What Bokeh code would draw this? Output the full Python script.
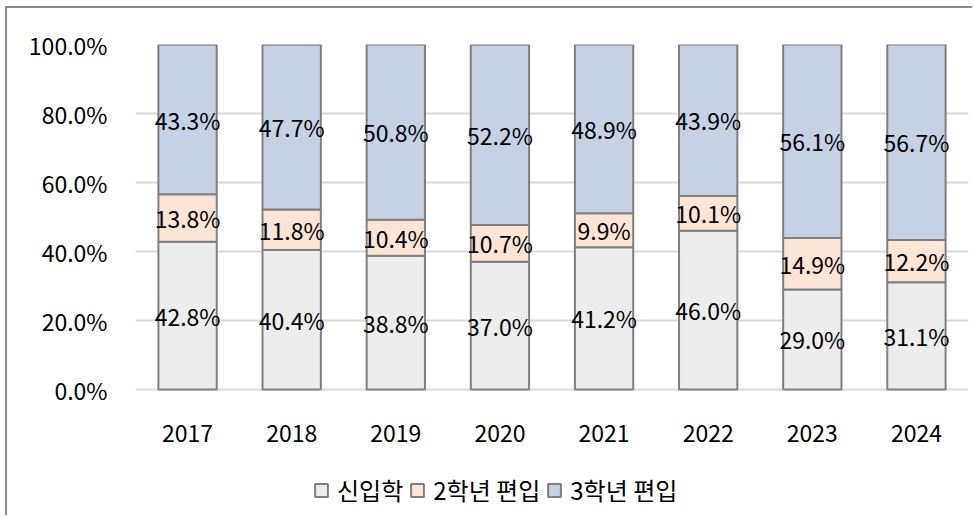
from bokeh.plotting import figure
from bokeh.models import ColumnDataSource, Range1d, FactorRange, Legend, LegendItem, LabelSet, FixedTicker, CustomJSTickFormatter
from bokeh.core.properties import value
from bokeh.embed import file_html
from bokeh.resources import INLINE

years = ["2017", "2018", "2019", "2020", "2021", "2022", "2023", "2024"]
freshman = [42.8, 40.4, 38.8, 37.0, 41.2, 46.0, 29.0, 31.1]
transfer2 = [13.8, 11.8, 10.4, 10.7, 9.9, 10.1, 14.9, 12.2]
transfer3 = [43.3, 47.7, 50.8, 52.2, 48.9, 43.9, 56.1, 56.7]
series_names = ["신입학", "2학년 편입", "3학년 편입"]
colors = ["#EDEDED", "#FBE5D6", "#C6D1E4"]
y_ticks = [0, 20, 40, 60, 80, 100]

FONT = "Noto Sans CJK KR"
FS = "23px"
LEG_FS = "24px"

# frame spans y=44..517 px of the page; 0..100 maps to 389..44 px -> 3.45 px per unit
Y_BOTTOM = -(517 - 389) / 3.45
YEAR_LABEL_Y = -(433 - 389) / 3.45

p = figure(width=967, height=509, x_range=FactorRange(*years), y_range=Range1d(Y_BOTTOM, 100),
           output_backend="svg", toolbar_location=None,
           min_border_left=128, min_border_right=6, min_border_top=36, min_border_bottom=0)
p.margin = (6, 0, 0, 5)
p.styles = {"border-top": "2px solid #8A8A8A", "border-left": "2px solid #8A8A8A"}
p.outline_line_color = None
p.background_fill_color = "white"
p.border_fill_color = "white"
p.xaxis.visible = False

src = dict(year=years, s0=freshman, s1=transfer2, s2=transfer3)
src["b0"] = [0] * len(years)
src["t0"] = freshman
src["b1"] = freshman
src["t1"] = [a + b for a, b in zip(freshman, transfer2)]
src["b2"] = src["t1"]
src["t2"] = [a + b + c for a, b, c in zip(freshman, transfer2, transfer3)]
for i in range(3):
    src[f"m{i}"] = [(b + t) / 2 for b, t in zip(src[f"b{i}"], src[f"t{i}"])]
    src[f"l{i}"] = [f"{v:.1f}%" for v in src[f"s{i}"]]
src["ylab"] = [YEAR_LABEL_Y] * len(years)
source = ColumnDataSource(src)

renderers = []
for i in range(3):
    r = p.vbar(x="year", bottom=f"b{i}", top=f"t{i}", width=0.56, source=source,
               fill_color=colors[i], line_color="#7F7F7F", line_width=2)
    renderers.append(r)
    labels = LabelSet(x="year", y=f"m{i}", text=f"l{i}", source=source,
                      text_align="center", text_baseline="middle",
                      text_font=value(FONT), text_font_size=FS, text_color="#000000")
    p.add_layout(labels)

year_labels = LabelSet(x="year", y="ylab", text="year", source=source,
                       text_align="center", text_baseline="middle",
                       text_font=value(FONT), text_font_size=FS, text_color="#000000")
p.add_layout(year_labels)

p.xgrid.grid_line_color = None
p.ygrid.grid_line_color = "#D9D9D9"
p.ygrid.grid_line_width = 2
p.ygrid.ticker = FixedTicker(ticks=y_ticks)

p.yaxis.ticker = FixedTicker(ticks=y_ticks)
p.yaxis.formatter = CustomJSTickFormatter(code="return tick.toFixed(1) + '%';")
ax = p.yaxis[0]
ax.axis_line_color = None
ax.major_tick_line_color = None
ax.minor_tick_line_color = None
ax.major_tick_out = 0
ax.minor_tick_out = 0
ax.major_label_text_font = FONT
ax.major_label_text_font_size = FS
ax.major_label_text_color = "#000000"
ax.major_label_standoff = 28

legend = Legend(items=[LegendItem(label=series_names[i], renderers=[renderers[i]]) for i in range(3)],
                orientation="horizontal", location=(178, 10),
                label_text_font=FONT, label_text_font_size=LEG_FS, label_text_color="#000000",
                glyph_width=16, glyph_height=16, label_standoff=8, spacing=6,
                padding=0, margin=0, border_line_color=None, background_fill_alpha=0)
p.add_layout(legend, "center")

open("out.html", "w").write(file_html(p, INLINE))
